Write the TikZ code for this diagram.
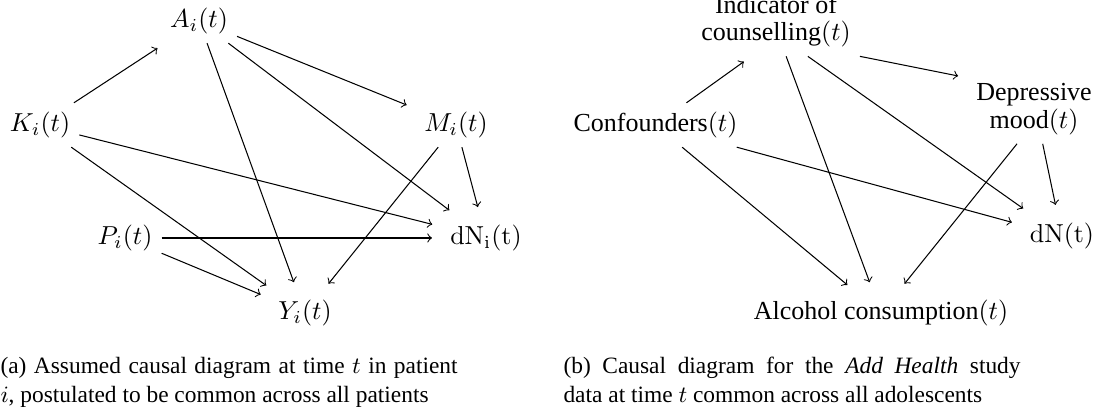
\documentclass[tikz,border=0pt]{standalone}
\usepackage[no-math]{fontspec}
\setmainfont{Liberation Serif}

\begin{document}
\begin{tikzpicture}[x=0.3846pt,y=-0.3846pt,
		every node/.style={font=\fontsize{10}{10.6}\selectfont},
		cause/.style={->,shorten >=3.5pt},
		caption/.style={anchor=north west,inner sep=0pt,text width=175.8pt,align=justify,font=\small}]
			\useasboundingbox (0,0) rectangle (1101,416);
			%Patient diagram
			\node (A) at (199,21) {$A_i(t)$};
			\node (K) at (40,125) {$K_i(t)$};
			\node (M) at (456,125) {$M_i(t)$};
			\node (P) at (125,238) {$P_i(t)$};
			\node (dNi) at (486,238) {$\mathrm{dN_i(t)}$};
			\node (Y) at (305,313) {$Y_i(t)$};
			\draw[cause] (K) -- (A);
			\draw[cause] (A) -- (M);
			\draw[cause] (A) -- (dNi);
			\draw[cause] (A) -- (Y);
			\draw[cause] (K) -- (dNi);
			\draw[cause] (K) -- (Y);
			\draw[cause] (M) -- (dNi);
			\draw[cause] (M) -- (Y);
			\draw[cause] (P) -- (dNi);
			\draw[cause] (P) -- (Y);
			%Add Health diagram
			\node[align=center] (ind) at (776,21) {Indicator of\\counselling$(t)$};
			\node (conf) at (655.5,125) {Confounders$(t)$};
			\node[align=center] (dep) at (1034,109) {Depressive\\mood$(t)$};
			\node (dN) at (1062,236) {$\mathrm{dN(t)}$};
			\node (alc) at (881,313) {Alcohol consumption$(t)$};
			\draw[cause] (conf) -- (ind.-125.6);
			\draw[cause] (ind.south east) -- (dep.155);
			\draw[cause] (ind.-48) -- (dN);
			\draw[cause] (ind.-74) -- (alc);
			\draw[cause] (conf) -- (dN);
			\draw[cause] (conf) -- (alc);
			\draw[cause] (dep.-116) -- (alc);
			\draw[cause] (dep.-76) -- (dN);
			%Captions
			\node[caption] (capA) at (0,357) {(a) Assumed causal diagram at time $t$ in patient\linebreak $i$, postulated to be common across all patients};
			\node[caption] (capB) at (563,357) {(b) Causal diagram for the \textit{Add Health} study\linebreak data at time $t$ common across all adolescents};
		\end{tikzpicture}
\end{document}
